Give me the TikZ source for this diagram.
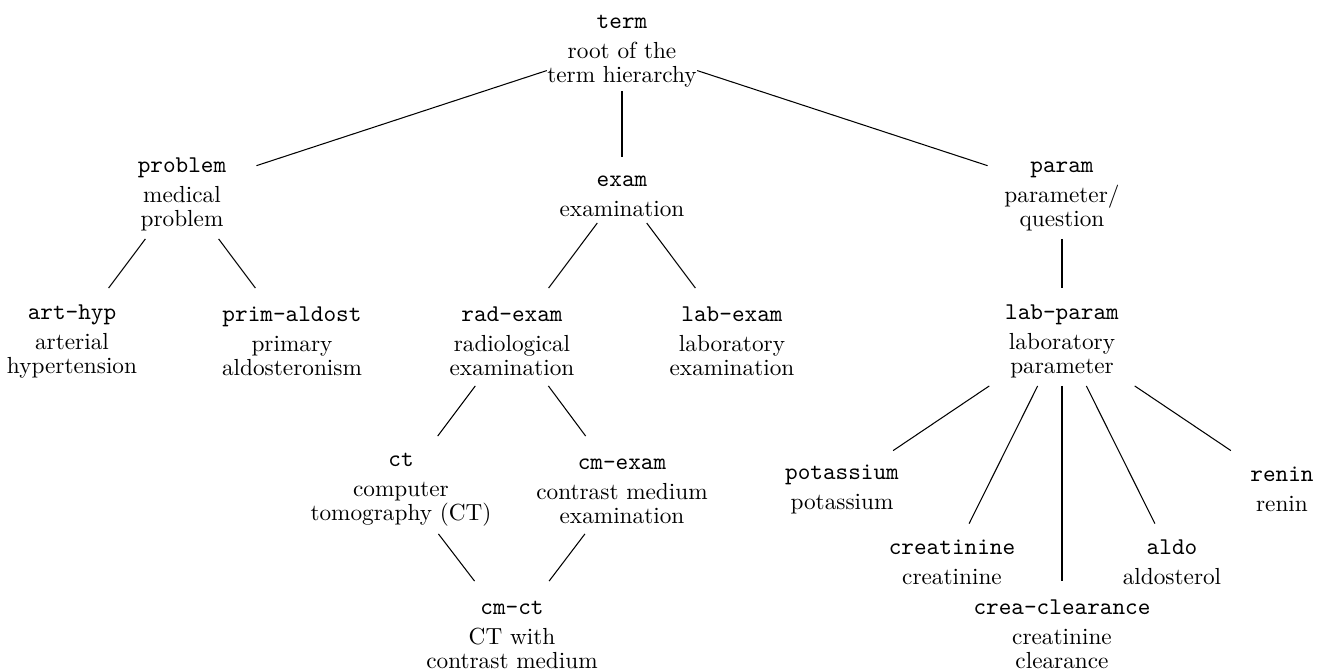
\documentclass[tikz,border=0pt]{standalone}
\newcommand{\cname}[1]{\rule{0pt}{10pt}{\fontsize{10.35}{10.4}\selectfont\texttt{#1}}}
\begin{document}
\begin{tikzpicture}[
  x=0.43pt, y=-0.43pt,
  concept/.style={
    rectangle,
    align=center,
    inner sep=0pt,
    minimum width=63.6pt,
    minimum height=41.7pt,
    font=\fontsize{10}{10.4}\selectfont
  },
  leaf/.style={concept, minimum height=29.2pt},
  link/.style={draw=black, line width=0.45pt}
]
\useasboundingbox (0,0) rectangle (1327,670);

% root
\node[concept, minimum height=38.7pt] (term) at (622,46) {\cname{term}\\[2.5pt]root of the\\term hierarchy};

% first level
\node[concept] (problem) at (182,190) {\cname{problem}\\[2.5pt]medical\\problem};
\node[leaf, minimum height=28pt] (exam) at (622,190) {\cname{exam}\\[2.5pt]examination};
\node[concept] (param) at (1062,190) {\cname{param}\\[2.5pt]parameter/\\question};

% second level
\node[concept] (arthyp) at (72,337) {\cname{art-hyp}\\[2.5pt]arterial\\hypertension};
\node[concept] (primaldost) at (292,337) {\cname{prim-aldost}\\[2.5pt]primary\\aldosteronism};
\node[concept] (radexam) at (512,337) {\cname{rad-exam}\\[2.5pt]radiological\\examination};
\node[concept] (labexam) at (732,337) {\cname{lab-exam}\\[2.5pt]laboratory\\examination};
\node[concept] (labparam) at (1062,337) {\cname{lab-param}\\[2.5pt]laboratory\\parameter};

% third level
\node[concept] (ct) at (401,485) {\cname{ct}\\[2.5pt]computer\\tomography (CT)};
\node[concept] (cmexam) at (622,485) {\cname{cm-exam}\\[2.5pt]contrast medium\\examination};
\node[leaf] (potassium) at (842,485) {\cname{potassium}\\[2.5pt]potassium};
\node[leaf] (renin) at (1282,485) {\cname{renin}\\[2.5pt]renin};
\node[leaf] (creatinine) at (952,558) {\cname{creatinine}\\[2.5pt]creatinine};
\node[leaf] (aldo) at (1172,558) {\cname{aldo}\\[2.5pt]aldosterol};

% fourth level
\node[concept] (cmct) at (512,630) {\cname{cm-ct}\\[2.5pt]CT with\\contrast medium};
\node[concept] (creaclear) at (1062,630) {\cname{crea-clearance}\\[2.5pt]creatinine\\clearance};

% hierarchy links
\draw[link] (term) -- (problem);
\draw[link] (term) -- (exam);
\draw[link] (term) -- (param);
\draw[link] (problem) -- (arthyp);
\draw[link] (problem) -- (primaldost);
\draw[link] (exam) -- (radexam);
\draw[link] (exam) -- (labexam);
\draw[link] (param) -- (labparam);
\draw[link] (radexam) -- (ct);
\draw[link] (radexam) -- (cmexam);
\draw[link] (ct) -- (cmct);
\draw[link] (cmexam) -- (cmct);
\draw[link] (labparam) -- (potassium);
\draw[link] (labparam) -- (creatinine);
\draw[link] (labparam) -- (creaclear);
\draw[link] (labparam) -- (aldo);
\draw[link] (labparam) -- (renin);

\end{tikzpicture}
\end{document}
